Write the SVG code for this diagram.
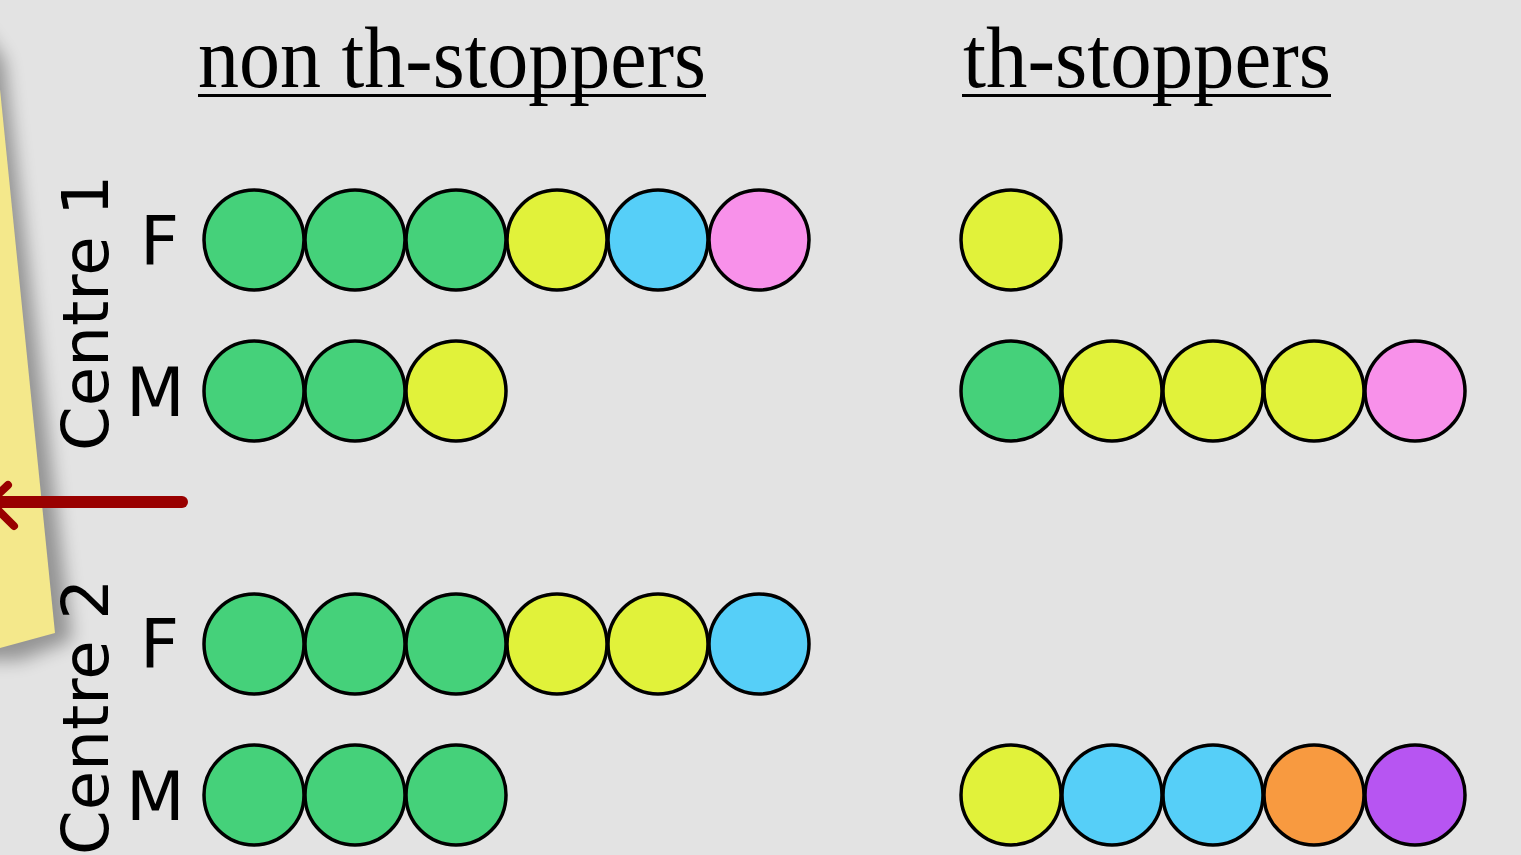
<svg xmlns="http://www.w3.org/2000/svg" width="1521" height="855" viewBox="0 0 1521 855">
<defs>
<style>
.t{font-family:"Liberation Serif","Times New Roman",serif;font-size:86px;fill:#000}
.lab{font-family:"DejaVu Sans",Verdana,sans-serif;font-size:64px;fill:#000}
.fm{font-family:"DejaVu Sans",Verdana,sans-serif;font-size:68px;fill:#000}
circle{stroke:#000;stroke-width:3.5}
.g{fill:#45d17a}.y{fill:#e1f23a}.b{fill:#56cff8}.p{fill:#f891ea}.o{fill:#f89a40}.v{fill:#b755f2}
</style>
<filter id="sh" x="-50%" y="-20%" width="200%" height="140%"><feGaussianBlur stdDeviation="9"/></filter>
</defs>
<rect width="1521" height="855" fill="#e3e3e3"/>
<g id="note">
<polygon points="-40,0 4,60 72,640 20,660 -40,660" fill="#000" opacity="0.35" filter="url(#sh)"/>
<polygon points="-40,-10 -6,30 55,633 0,648 -40,650" fill="#f4e88b"/>
</g>
<g id="titles">
<text class="t" x="198" y="87" textLength="508" lengthAdjust="spacingAndGlyphs">non th-stoppers</text>
<rect x="198" y="94" width="508" height="3"/>
<text class="t" x="963" y="87" textLength="368" lengthAdjust="spacingAndGlyphs">th-stoppers</text>
<rect x="962" y="94" width="369" height="3"/>
</g>
<g id="centre1-label"><text class="lab" transform="translate(108,451) rotate(-90)" textLength="276" lengthAdjust="spacingAndGlyphs">Centre 1</text></g>
<g id="centre2-label"><text class="lab" transform="translate(108,855) rotate(-90)" textLength="276" lengthAdjust="spacingAndGlyphs">Centre 2</text></g>
<g id="row-labels">
<text class="fm" x="140" y="265">F</text>
<text class="fm" x="126" y="416">M</text>
<text class="fm" x="140" y="668">F</text>
<text class="fm" x="126" y="820">M</text>
</g>
<g id="c1F-non"><circle class="g" cx="254" cy="240" r="50"/><circle class="g" cx="355" cy="240" r="50"/><circle class="g" cx="456" cy="240" r="50"/><circle class="y" cx="557" cy="240" r="50"/><circle class="b" cx="658" cy="240" r="50"/><circle class="p" cx="759" cy="240" r="50"/></g>
<g id="c1F-th"><circle class="y" cx="1011" cy="240" r="50"/></g>
<g id="c1M-non"><circle class="g" cx="254" cy="391" r="50"/><circle class="g" cx="355" cy="391" r="50"/><circle class="y" cx="456" cy="391" r="50"/></g>
<g id="c1M-th"><circle class="g" cx="1011" cy="391" r="50"/><circle class="y" cx="1112" cy="391" r="50"/><circle class="y" cx="1213" cy="391" r="50"/><circle class="y" cx="1314" cy="391" r="50"/><circle class="p" cx="1415" cy="391" r="50"/></g>
<g id="c2F-non"><circle class="g" cx="254" cy="644" r="50"/><circle class="g" cx="355" cy="644" r="50"/><circle class="g" cx="456" cy="644" r="50"/><circle class="y" cx="557" cy="644" r="50"/><circle class="y" cx="658" cy="644" r="50"/><circle class="b" cx="759" cy="644" r="50"/></g>
<g id="c2M-non"><circle class="g" cx="254" cy="795" r="50"/><circle class="g" cx="355" cy="795" r="50"/><circle class="g" cx="456" cy="795" r="50"/></g>
<g id="c2M-th"><circle class="y" cx="1011" cy="795" r="50"/><circle class="b" cx="1112" cy="795" r="50"/><circle class="b" cx="1213" cy="795" r="50"/><circle class="o" cx="1314" cy="795" r="50"/><circle class="v" cx="1415" cy="795" r="50"/></g>
<g id="connectors">
<line x1="-10" y1="502" x2="182" y2="502" stroke="#990000" stroke-width="12" stroke-linecap="round"/>
<polyline points="8,485 -10,502 14,526" fill="none" stroke="#990000" stroke-width="8" stroke-linecap="round" stroke-linejoin="round"/>
</g>
</svg>
